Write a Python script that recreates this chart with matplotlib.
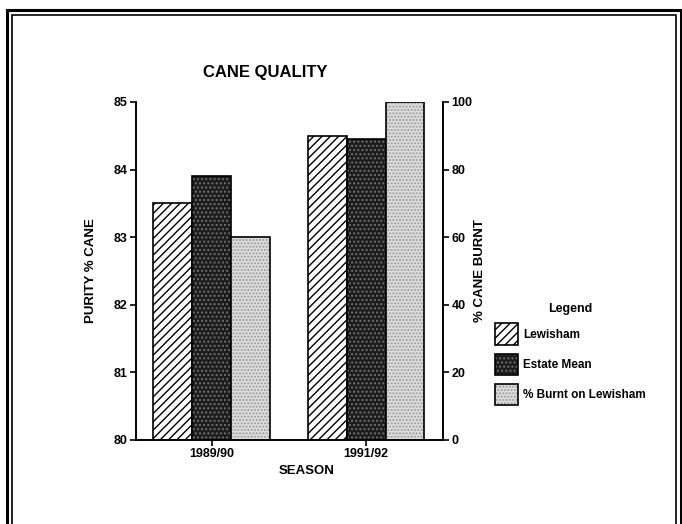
import matplotlib
matplotlib.use('Agg')
import matplotlib.pyplot as plt
from matplotlib.patches import Patch, Rectangle
from matplotlib.legend_handler import HandlerTuple

plt.rcParams['font.family'] = ['Liberation Sans', 'DejaVu Sans']
plt.rcParams['font.weight'] = 'bold'
plt.rcParams['axes.labelweight'] = 'bold'
plt.rcParams['hatch.linewidth'] = 1.0

seasons = ['1989/90', '1991/92']
lewisham = [83.5, 84.5]
estate_mean = [83.9, 84.45]
pct_burnt = [60, 100]
series_names = ['Lewisham', 'Estate Mean', '% Burnt on Lewisham']

fig = plt.figure(figsize=(6.82, 5.24), dpi=100)
ax = fig.add_axes([136/682, 1-440/524, (443-136)/682, (440-102)/524])
ax2 = ax.twinx()

w = 0.252
x = range(len(seasons))
xl = [i - w for i in x]
xm = list(x)
xr = [i + w for i in x]

# styles: (face, hatch, hatch colour)
styles = [('white', '////', 'black'),
          ('#1c1c1c', '....', '#6e6e6e'),
          ('#dedede', '.....', '#9a9a9a')]

def draw(a, xs, vals, bottom, st):
    face, hatch, hc = st
    a.bar(xs, [v - bottom for v in vals], w, bottom=bottom, color=face,
          hatch=hatch, edgecolor=hc, linewidth=0)
    a.bar(xs, [v - bottom for v in vals], w, bottom=bottom, fill=False,
          edgecolor='black', linewidth=1.2)

draw(ax, xl, lewisham, 80, styles[0])
draw(ax, xm, estate_mean, 80, styles[1])
draw(ax2, xr, pct_burnt, 0, styles[2])

ax.set_xlim(-0.489, 1.498)
ax.set_ylim(80, 85)
ax2.set_ylim(0, 100)
ax.set_yticks([80, 81, 82, 83, 84, 85])
ax2.set_yticks([0, 20, 40, 60, 80, 100])
ax.set_xticks(list(x))
ax.set_xticklabels(seasons)

ax.spines['top'].set_visible(False)
ax2.spines['top'].set_visible(False)
for a in (ax, ax2):
    for s in a.spines.values():
        s.set_linewidth(1.2)
ax.tick_params(axis='both', labelsize=9, length=4, width=1.2, pad=2)
ax2.tick_params(axis='y', labelsize=9, length=4, width=1.2, pad=2)

ax.set_ylabel('PURITY % CANE', fontsize=9.5, labelpad=12)
ax2.set_ylabel('% CANE BURNT', fontsize=9.5, labelpad=1)
ax.set_xlabel('SEASON', fontsize=9.5)
ax.xaxis.set_label_coords((307-136)/307, -0.075)

fig.text(265/682, 1-72/524, 'CANE QUALITY', ha='center', va='center', fontsize=12)

handles = []
for face, hatch, hc in styles:
    h1 = Patch(facecolor=face, hatch=hatch, edgecolor=hc, linewidth=0)
    h2 = Patch(fill=False, edgecolor='black', linewidth=1.2)
    handles.append((h1, h2))
leg = fig.legend(handles, series_names, handler_map={tuple: HandlerTuple(ndivide=1)},
                 loc='upper left', bbox_to_anchor=(484/682, 1-292/524), frameon=False,
                 title='Legend', fontsize=8.5, title_fontsize=9,
                 handlelength=2.0, handleheight=2.4, labelspacing=0.75, handletextpad=0.4)
leg.get_title().set_fontweight('bold')

# outer double frame
for (x0, y0, x1, lw) in [(7, 10, 681, 2.2), (12, 15, 676, 1.2)]:
    fig.add_artist(Rectangle((x0/682, -0.1), (x1-x0)/682, 1-y0/524+0.1,
                             transform=fig.transFigure, fill=False,
                             edgecolor='black', linewidth=lw))

fig.savefig('out.png', dpi=100)
